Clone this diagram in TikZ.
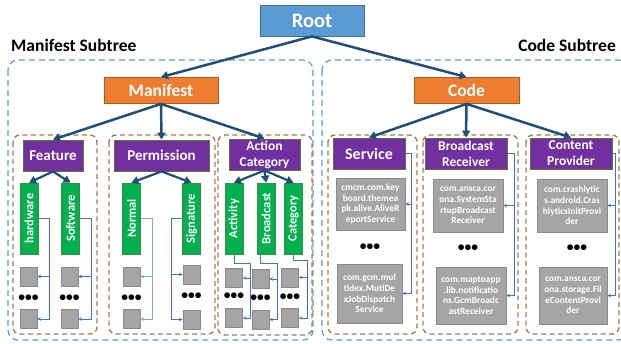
\documentclass[tikz,border=0pt]{standalone}
\usepackage{fontspec}
\setmainfont{Carlito}
\usetikzlibrary{arrows.meta,calc}

\definecolor{rootfill}{HTML}{5B9BD5}
\definecolor{rootedge}{HTML}{41719C}
\definecolor{orfill}{HTML}{ED7D31}
\definecolor{oredge}{HTML}{B4581E}
\definecolor{catfill}{HTML}{7030A0}
\definecolor{catedge}{HTML}{55763A}
\definecolor{leaffill}{HTML}{00B050}
\definecolor{leafedge}{HTML}{3F8A3F}
\definecolor{grayfill}{HTML}{A5A5A5}
\definecolor{grayedge}{HTML}{8A8A8A}
\definecolor{treeline}{HTML}{1F4E79}
\definecolor{linkline}{HTML}{4472C4}
\definecolor{groupline}{HTML}{A67B4F}
\definecolor{regionline}{HTML}{5B9BD5}

\tikzset{
  rootbox/.style={fill=rootfill, draw=rootedge, line width=0.8pt, inner sep=0pt,
    text=white, font=\fontsize{20.5}{22}\selectfont\bfseries},
  topbox/.style={fill=orfill, draw=oredge, line width=0.8pt, inner sep=0pt,
    text=white, font=\fontsize{17.5}{19}\selectfont\bfseries},
  catbox/.style={fill=catfill, draw=catedge, line width=0.9pt, inner sep=0pt,
    text=white, align=center, minimum height=31pt},
  leafbox/.style={fill=leaffill, draw=leafedge, line width=0.6pt, inner sep=0pt,
    text=white, font=\fontsize{12.5}{14}\selectfont\bfseries,
    minimum width=18pt, minimum height=71pt},
  sq/.style={fill=grayfill, draw=grayedge, line width=0.8pt, inner sep=0pt,
    minimum width=17pt, minimum height=19pt},
  clsbox/.style={fill=grayfill, draw=grayedge, line width=0.8pt, inner sep=0pt,
    text=white, align=center, font=\fontsize{9.4}{10.6}\selectfont\bfseries},
  more/.style={inner sep=0pt, font=\fontsize{13.5}{13.5}\selectfont\bfseries},
  tree/.style={draw=treeline, line width=2.5pt, -{Triangle[length=7pt,width=8pt]}},
  link/.style={draw=linkline, line width=0.9pt, -{Stealth[length=3.5pt,width=3.5pt]}},
  group/.style={draw=groupline, line width=1.4pt, dash pattern=on 5pt off 3.5pt, rounded corners=7pt},
  region/.style={draw=regionline, line width=1.2pt, dash pattern=on 6pt off 4pt, rounded corners=10pt},
  subtitle/.style={inner sep=0pt, font=\fontsize{17.5}{19}\selectfont\bfseries}
}

\begin{document}
\begin{tikzpicture}[x=1pt,y=-1pt]
\useasboundingbox (0,0) rectangle (621,343);

% dashed regions for the two subtrees
\draw[region] (8,60) rectangle (313,340);
\draw[region] (322,60) rectangle (628,340);

% dashed group frames
\draw[group] (13,135) rectangle (97,334);
\draw[group] (109,135) rectangle (215,334);
\draw[group] (218,135) rectangle (312,335);
\draw[group] (328,135) rectangle (417,334);
\draw[group] (423,135) rectangle (518,334);
\draw[group] (526,135) rectangle (619,334);

% titles
\node[subtitle, anchor=west] (mtitle) at (11,45) {Manifest Subtree};
\node[subtitle, anchor=east] (ctitle) at (616,45) {Code Subtree};

% root and first level
\node[rootbox, minimum width=104pt, minimum height=31pt] (root) at (312,20.5) {Root};
\node[topbox, minimum width=114pt, minimum height=26pt] (man) at (161,90.5) {Manifest};
\node[topbox, minimum width=105pt, minimum height=26pt] (code) at (466.5,90.5) {Code};

% categories
\node[catbox, minimum width=60pt, font=\fontsize{15}{17}\selectfont\bfseries] (feat) at (53,155.5) {Feature};
\node[catbox, minimum width=95pt, font=\fontsize{15}{17}\selectfont\bfseries] (perm) at (161.5,155.5) {Permission};
\node[catbox, minimum width=71pt, font=\fontsize{13.5}{16}\selectfont\bfseries] (act) at (264.5,154.5) {Action\\Category};
\node[catbox, minimum width=72pt, font=\fontsize{16}{18}\selectfont\bfseries] (svc) at (369,153.5) {Service};
\node[catbox, minimum width=82pt, font=\fontsize{13.5}{16}\selectfont\bfseries] (brc) at (466,153.5) {Broadcast\\Receiver};
\node[catbox, minimum width=82pt, font=\fontsize{13.5}{16}\selectfont\bfseries] (cpv) at (571,153.5) {Content\\Provider};

% tree edges
\draw[tree] (root.south) -- (man.north);
\draw[tree] (root.south) -- (code.north);
\draw[tree] (man.south) -- (feat.north);
\draw[tree] (man.south) -- (perm.north);
\draw[tree] (man.south) -- (act.north);
\draw[tree] (code.south) -- (svc.north);
\draw[tree] (code.south) -- (brc.north);
\draw[tree] (code.south) -- (cpv.north);

% leaves of the manifest subtree
\node[leafbox] (hw) at (29,218.5) {\rotatebox{90}{hardware}};
\node[leafbox] (sw) at (70.5,218.5) {\rotatebox{90}{Software}};
\node[leafbox] (nm) at (131.5,218.5) {\rotatebox{90}{Normal}};
\node[leafbox] (sg) at (191.5,218.5) {\rotatebox{90}{Signature}};
\node[leafbox] (ac) at (234,218.5) {\rotatebox{90}{Activity}};
\node[leafbox] (bc) at (266,218.5) {\rotatebox{90}{Broadcast}};
\node[leafbox] (ct) at (293.5,218.5) {\rotatebox{90}{Category}};

\draw[tree, line width=2.2pt] (feat.south) -- (hw.north);
\draw[tree, line width=2.2pt] (feat.south) -- (sw.north);
\draw[tree, line width=2.2pt] (perm.south) -- (nm.north);
\draw[tree, line width=2.2pt] (perm.south) -- (sg.north);
\draw[tree, line width=2.2pt] (act.south) -- (ac.north);
\draw[tree, line width=2.2pt] (act.south) -- (bc.north);
\draw[tree, line width=2.2pt] (act.south) -- (ct.north);

% value squares
\node[sq] (hw1) at (28.5,276.5) {};
\node[sq] (hw2) at (28.5,319) {};
\node[sq] (sw1) at (69.5,276.5) {};
\node[sq] (sw2) at (69.5,319) {};
\node[sq] (nm1) at (131.5,276.5) {};
\node[sq] (nm2) at (131.5,319) {};
\node[sq] (sg1) at (191.5,274.5) {};
\node[sq] (sg2) at (191.5,319.5) {};
\node[sq] (ac1) at (234,278) {};
\node[sq] (ac2) at (234,318) {};
\node[sq] (bc1) at (260.5,279) {};
\node[sq] (bc2) at (260.5,319.5) {};
\node[sq] (ct1) at (290,277.5) {};
\node[sq] (ct2) at (290,318) {};

\node[more] (hwd) at (28.5,298.5) {•••};
\node[more] (swd) at (69.5,298.5) {•••};
\node[more] (nmd) at (131.5,298.5) {•••};
\node[more] (sgd) at (191.5,296) {•••};
\node[more] (acd) at (234,296.5) {•••};
\node[more] (bcd) at (260.5,298) {•••};
\node[more] (ctd) at (290,297) {•••};

% bus lines to the values
\coordinate (hwx) at (49,0);
\coordinate (swx) at (91,0);
\coordinate (nmx) at (152,0);
\coordinate (sgx) at (171,0);
\draw[link] (hw.east) -- (hw.east -| hwx) |- (hw2.east);
\draw[link] (hw1.east -| hwx) -- (hw1.east);
\draw[link] (sw.east) -- (sw.east -| swx) |- (sw2.east);
\draw[link] (sw1.east -| swx) -- (sw1.east);
\draw[link, draw=linkline!65] (nm.east) -- (nm.east -| nmx) |- (nm2.east);
\draw[link, draw=linkline!65] (nm1.east -| nmx) -- (nm1.east);
\draw[link] (sg.west) -- (sg.west -| sgx) |- (sg2.west);
\draw[link] (sg1.west -| sgx) -- (sg1.west);

\coordinate (acbend) at (250,263);
\coordinate (bcbend) at (277,263);
\coordinate (ctbend) at (307,260);
\draw[link] (ac.south) |- (acbend) |- (ac2.east);
\draw[link] (ac1.east -| acbend) -- (ac1.east);
\draw[link] (bc.south -| bc1.north) |- (bcbend) |- (bc2.east);
\draw[link] (bc1.east -| bcbend) -- (bc1.east);
\draw[link] (ct.south) |- (ctbend) |- (ct2.east);
\draw[link] (ct1.east -| ctbend) -- (ct1.east);

% class entries of the code subtree
\node[clsbox, minimum width=69pt, minimum height=52pt] (svc1) at (370.5,204) {cmcm.com.key\\board.themea\\pk.alive.AliveR\\eportService};
\node[clsbox, minimum width=65pt, minimum height=59pt] (svc2) at (369.5,293.5) {com.gcm.mul\\tidex.MutiDe\\xJobDispatch\\Service};
\node[clsbox, minimum width=70pt, minimum height=53pt] (br1) at (468,205.5) {com.ansca.cor\\ona.SystemSta\\rtupBroadcast\\Receiver};
\node[clsbox, minimum width=70pt, minimum height=57pt] (br2) at (471,295.5) {com.maptoapp\\.lib.notificatio\\ns.GcmBroadc\\astReceiver};
\node[clsbox, minimum width=70pt, minimum height=53pt] (cp1) at (572,205.5) {com.crashlytic\\s.android.Cras\\hlyticsInitProvi\\der};
\node[clsbox, minimum width=68pt, minimum height=57pt] (cp2) at (573,295.5) {com.ansca.cor\\ona.storage.Fil\\eContentProvi\\der};

\node[more] (svcd) at (370,247) {•••};
\node[more] (brd) at (468,248) {•••};
\node[more] (cpd) at (577,248) {•••};

\coordinate (svcx) at (411,0);
\coordinate (brx) at (514,0);
\coordinate (cpx) at (615.5,0);
\draw[link] (svc.east) -- (svc.east -| svcx) |- (svc2.east);
\draw[link] (svc1.east -| svcx) -- (svc1.east);
\draw[link] (brc.east) -- (brc.east -| brx) |- (br2.east);
\draw[link] (br1.east -| brx) -- (br1.east);
\draw[link] (cpv.east) -- (cpv.east -| cpx) |- (cp2.east);
\draw[link] (cp1.east -| cpx) -- (cp1.east);
\end{tikzpicture}
\end{document}
